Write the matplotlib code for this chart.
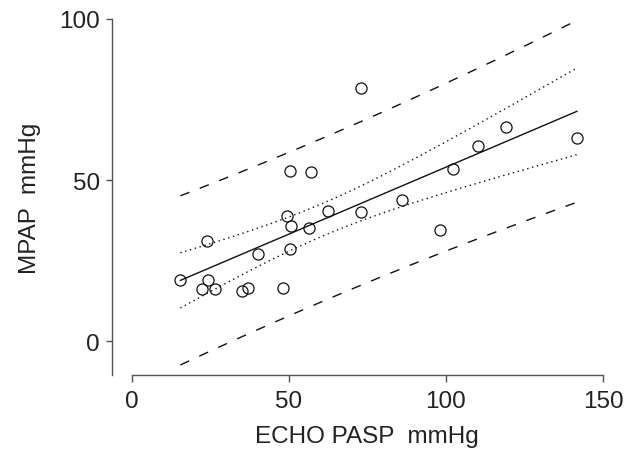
import numpy as np
import matplotlib
matplotlib.use("Agg")
import matplotlib.pyplot as plt

plt.rcParams['font.family'] = ['Liberation Sans Narrow', 'Liberation Sans', 'DejaVu Sans']

# Data (ECHO PASP vs MPAP, mmHg)
echo_pasp = [72.9, 50.3, 56.9, 119.0, 110.1, 141.7, 102.2, 86.0,
             62.5, 72.9, 49.3, 50.7, 56.5, 98.0, 23.9, 40.2,
             50.3, 15.4, 24.1, 22.4, 26.4, 34.9, 37.0, 48.0]
mpap = [78.5, 53.0, 52.5, 66.5, 60.7, 63.1, 53.4, 43.9,
        40.4, 40.2, 39.0, 35.9, 35.3, 34.5, 31.1, 27.1,
        28.6, 19.2, 19.2, 16.2, 16.4, 15.8, 16.7, 16.6]
x_ticks = [0, 50, 100, 150]
y_ticks = [0, 50, 100]
x_label = "ECHO PASP  mmHg"
y_label = "MPAP  mmHg"
t_crit = 2.074  # t(0.975, df = n - 2)

x = np.array(echo_pasp)
y = np.array(mpap)
n = len(x)
slope, intercept = np.polyfit(x, y, 1)
resid = y - (intercept + slope * x)
s = np.sqrt(np.sum(resid ** 2) / (n - 2))
sxx = np.sum((x - x.mean()) ** 2)
xg = np.linspace(x.min(), x.max(), 200)
yg = intercept + slope * xg
se_fit = s * np.sqrt(1.0 / n + (xg - x.mean()) ** 2 / sxx)
se_pred = s * np.sqrt(1.0 + 1.0 / n + (xg - x.mean()) ** 2 / sxx)

W, H = 632, 452
fig = plt.figure(figsize=(W / 100, H / 100), dpi=100)
left, right, top, bottom = 112.3, 603.0, 20.0, 375.7
ax = fig.add_axes([left / W, 1 - bottom / H, (right - left) / W, (bottom - top) / H])
ax.set_xlim(-6.27, 150)
ax.set_ylim(-10.3, 100)

ink = '#111111'
ax.plot(xg, yg, color=ink, lw=1.0, clip_on=False)
for sign in (1, -1):
    ax.plot(xg, yg + sign * t_crit * se_fit, color=ink, lw=1.0,
            dashes=(1.0, 2.6), clip_on=False)
    ax.plot(xg, yg + sign * t_crit * se_pred, color=ink, lw=1.0,
            dashes=(7.0, 8.0), clip_on=False)
ax.plot(x, y, linestyle='none', marker='o', ms=8.0, mfc='none',
        mec=ink, mew=0.9, clip_on=False)

for side in ('top', 'right'):
    ax.spines[side].set_visible(False)
spc = '#555555'
ax.spines['left'].set_color(spc)
ax.spines['bottom'].set_color(spc)
ax.spines['left'].set_linewidth(1.0)
ax.spines['bottom'].set_linewidth(1.0)
ax.spines['bottom'].set_bounds(0, 150)
ax.spines['left'].set_bounds(-10.3, 100)

ax.set_xticks(x_ticks)
ax.set_yticks(y_ticks)
ax.set_xticklabels([str(v) for v in x_ticks])
ax.set_yticklabels([str(v) for v in y_ticks])
ax.tick_params(axis='x', length=5, width=1.0, color=spc, pad=6.0,
               labelsize=17.5, labelcolor='#222222')
ax.tick_params(axis='y', length=4, width=1.0, color=spc, pad=5.0,
               labelsize=17.5, labelcolor='#222222')

fig.text(367.2 / W, 1 - 443.3 / H, x_label, ha='center', va='baseline',
         fontsize=17.5, color='#222222')
fig.text(30.5 / W, 1 - 198 / H, y_label, ha='center', va='center',
         rotation=90, fontsize=17.5, color='#222222')

fig.savefig('out.png', dpi=100)
